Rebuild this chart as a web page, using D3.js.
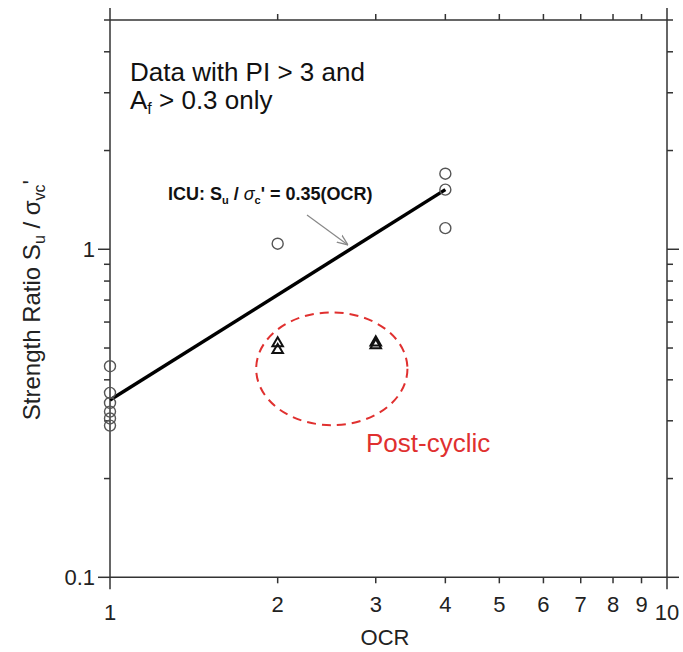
<!DOCTYPE html>
<html><head><meta charset="utf-8">
<script src="https://cdn.jsdelivr.net/npm/d3@7"></script>
<style>body{margin:0;background:#fff}svg{display:block;font-family:Arial,"Liberation Sans",sans-serif}</style>
</head><body><svg id="c" width="683" height="652"></svg>
<script>
// ---- data ----
const xMajorTicks = [1, 10];
const xMinorTicks = [2, 3, 4, 5, 6, 7, 8, 9];
const xTickLabels = ["1","2","3","4","5","6","7","8","9","10"];
const yMajorTicks = [0.1, 1];
const yMinorTicks = [0.2,0.3,0.4,0.5,0.6,0.7,0.8,0.9,2,3,4,5];
const yTickLabels = ["0.1","1"];
const circleOCR = [1,1,1,1,1,1,2,4,4,4];
const circleRatio = [0.44,0.365,0.34,0.32,0.305,0.29,1.04,1.70,1.52,1.16];
const triOCR = [2,2,3,3];
const triRatio = [0.517,0.493,0.52,0.51];
const lineOCR = [1,4];
const lineRatio = [0.347,1.52];
const ellipseOCR = [1.83,3.42];
const ellipseRatio = [0.291,0.642];

const svg = d3.select("#c");
const x = d3.scaleLog().domain([1,10]).range([110,667]);
const y = d3.scaleLog().domain([0.1,5]).range([577.3,20]);
const axisCol = "#333", maj = 12, mnr = 6;
const g = svg.append("g").attr("stroke",axisCol).attr("stroke-width",1.5);
const [x0,x1] = x.range(), [yb,yt] = y.range();
// frame
g.append("line").attr("x1",x0).attr("x2",x1).attr("y1",yb).attr("y2",yb);
g.append("line").attr("x1",x0).attr("x2",x1).attr("y1",yt).attr("y2",yt);
g.append("line").attr("x1",x0).attr("x2",x0).attr("y1",yb).attr("y2",yt);
g.append("line").attr("x1",x1).attr("x2",x1).attr("y1",yb).attr("y2",yt);
// ticks
xMajorTicks.concat(xMinorTicks).forEach(v=>{
  const L = xMajorTicks.includes(v)?maj:mnr;
  g.append("line").attr("x1",x(v)).attr("x2",x(v)).attr("y1",yb).attr("y2",yb+L);
  g.append("line").attr("x1",x(v)).attr("x2",x(v)).attr("y1",yt).attr("y2",yt-L);
});
yMajorTicks.concat(yMinorTicks).forEach(v=>{
  const L = yMajorTicks.includes(v)?maj:mnr;
  g.append("line").attr("y1",y(v)).attr("y2",y(v)).attr("x1",x0).attr("x2",x0-L);
  g.append("line").attr("y1",y(v)).attr("y2",y(v)).attr("x1",x1).attr("x2",x1+L);
});
// tick labels
const xt = [1,2,3,4,5,6,7,8,9,10];
xt.forEach((v,i)=>{
  const isEnd = (v===1||v===10);
  svg.append("text").attr("x",x(v)).attr("y", isEnd?620:612).attr("text-anchor","middle")
    .attr("font-size",22).attr("fill","#222").text(xTickLabels[i]);
});
yMajorTicks.forEach((v,i)=>{
  svg.append("text").attr("x",x0-15).attr("y",y(v)+8).attr("text-anchor","end")
    .attr("font-size",22).attr("fill","#222").text(yTickLabels[i]);
});
// axis titles
svg.append("text").attr("x",385).attr("y",645).attr("text-anchor","middle")
  .attr("font-size",22).attr("fill","#222").text("OCR");
const yt1 = svg.append("text").attr("transform","translate(40,300) rotate(-90)")
  .attr("text-anchor","middle").attr("font-size",24).attr("fill","#222");
yt1.append("tspan").text("Strength Ratio S");
yt1.append("tspan").attr("font-size",16).attr("dy",5).text("u");
yt1.append("tspan").attr("dy",-5).text(" / \u03C3");
yt1.append("tspan").attr("font-size",16).attr("dy",5).text("vc");
yt1.append("tspan").attr("dy",-5).text("'");
// note text
svg.append("text").attr("x",130).attr("y",81).attr("font-size",26).attr("fill","#111").text("Data with PI > 3 and");
const t2 = svg.append("text").attr("x",130).attr("y",109).attr("font-size",26).attr("fill","#111");
t2.append("tspan").text("A");
t2.append("tspan").attr("font-size",16).attr("dy",5).text("f");
t2.append("tspan").attr("dy",-5).text(" > 0.3 only");
// ellipse
svg.append("ellipse")
  .attr("cx",(x(ellipseOCR[0])+x(ellipseOCR[1]))/2)
  .attr("cy",(y(ellipseRatio[0])+y(ellipseRatio[1]))/2)
  .attr("rx",(x(ellipseOCR[1])-x(ellipseOCR[0]))/2)
  .attr("ry",(y(ellipseRatio[0])-y(ellipseRatio[1]))/2)
  .attr("fill","none").attr("stroke","#e0302f").attr("stroke-width",2).attr("stroke-dasharray","9,6");
svg.append("text").attr("x",366).attr("y",452).attr("font-size",26).attr("fill","#e0302f").text("Post-cyclic");
// fit line
svg.append("path").attr("d",d3.line().x((d,i)=>x(lineOCR[i])).y((d,i)=>y(lineRatio[i]))(lineOCR))
  .attr("stroke","#000").attr("stroke-width",3.5).attr("fill","none");
// circles
svg.selectAll("circle.pt").data(circleOCR).enter().append("circle")
  .attr("cx",(d)=>x(d)).attr("cy",(d,i)=>y(circleRatio[i])).attr("r",5.5)
  .attr("fill","none").attr("stroke","#555").attr("stroke-width",1.4);
// triangles
const tri = d3.symbol().type(d3.symbolTriangle).size(48);
svg.selectAll("path.tri").data(triOCR).enter().append("path")
  .attr("d",tri).attr("transform",(d,i)=>`translate(${x(d)},${y(triRatio[i])})`)
  .attr("fill","none").attr("stroke","#111").attr("stroke-width",2);
// annotation
const a = svg.append("text").attr("x",168).attr("y",200).attr("font-size",18).attr("font-weight","bold").attr("fill","#111");
a.append("tspan").text("ICU: S");
a.append("tspan").attr("font-size",11).attr("dy",4).text("u");
a.append("tspan").attr("dy",-4).text(" / ");
a.append("tspan").attr("font-weight","normal").attr("font-style","italic").text("\u03C3");
a.append("tspan").attr("font-size",11).attr("dy",4).text("c");
a.append("tspan").attr("dy",-4).text("' = 0.35(OCR)");
svg.append("defs").append("marker").attr("id","ah").attr("viewBox","0 0 10 10").attr("refX",10).attr("refY",5)
  .attr("markerWidth",9).attr("markerHeight",9).attr("orient","auto")
  .append("path").attr("d","M0,1 L10,5 L0,9").attr("fill","none").attr("stroke","#888").attr("stroke-width",1.2);
svg.append("line").attr("x1",307).attr("y1",215).attr("x2",348).attr("y2",245)
  .attr("stroke","#888").attr("stroke-width",1.2).attr("marker-end","url(#ah)");
</script></body></html>
